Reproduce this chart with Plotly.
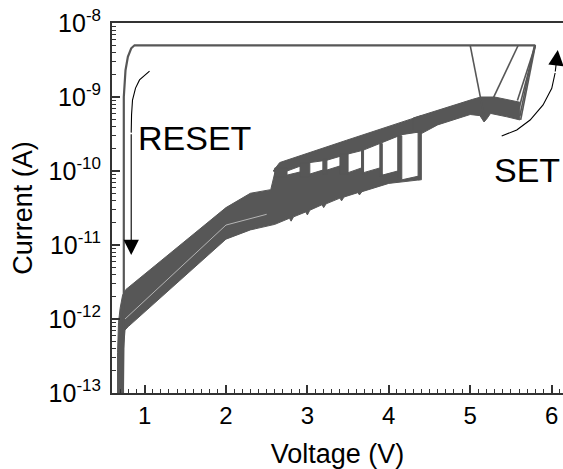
import numpy as np
import plotly.graph_objects as go

# ---------------- data (Voltage in V, Current in A) -------------
I_cc = 5e-9  # compliance current

# lower band (all SET sweeps, 0.67 V .. 4.4 V): upper and lower edges
low_top_v = [0.668, 0.668, 0.68, 0.70, 0.73, 0.77, 2.0, 2.3, 2.55, 2.6, 2.75, 2.91, 3.03, 3.19,
             3.24, 3.40, 3.50, 3.665, 3.69, 3.89, 3.92, 4.11, 4.16, 4.36, 4.38]
low_top_i = [5e-14, 3.5e-13, 9e-13, 1.4e-12, 2.1e-12, 2.5e-12, 3.2e-11, 5.0e-11, 5.6e-11, 9.5e-11,
             8.8e-11, 9.7e-11, 9.1e-11, 1.03e-10, 1.03e-10, 1.17e-10, 9.5e-11, 1.1e-10, 9.5e-11,
             1.1e-10, 8.8e-11, 1.0e-10, 7.6e-11, 8.5e-11, 8.0e-11]
low_bot_v = [0.742, 0.742, 0.76, 0.80, 2.0, 2.3, 2.6, 2.78, 2.80, 2.83, 2.98, 3.00, 3.03,
             3.18, 3.20, 3.23, 3.40, 3.42, 3.45, 3.62, 3.64, 3.67, 4.0, 4.2, 4.38]
low_bot_i = [5e-14, 4.0e-13, 7.1e-13, 7.9e-13, 1.2e-11, 1.6e-11, 1.9e-11, 2.3e-11, 2.1e-11, 2.4e-11,
             2.8e-11, 2.55e-11, 2.95e-11, 3.5e-11, 3.2e-11, 3.6e-11, 4.3e-11, 3.95e-11, 4.45e-11,
             5.1e-11, 4.75e-11, 5.25e-11, 6.8e-11, 7.2e-11, 7.6e-11]

# jumps from the lower to the upper branch
pillar_v_left = [2.60, 2.91, 3.19, 3.40, 3.665, 3.89, 4.11, 4.36]
pillar_v_right = [2.75, 3.03, 3.24, 3.50, 3.69, 3.92, 4.16, 4.40]
pillar_i_low = [8.3e-11, 8.3e-11, 9.0e-11, 9.0e-11, 9.0e-11, 8.5e-11, 7.8e-11, 7.6e-11]
pillar_i_high = [1.1e-10, 1.3e-10, 1.45e-10, 1.7e-10, 1.95e-10, 2.35e-10, 3.0e-10, 3.5e-10]

# upper branch (after the small jumps)
up_top_v = [2.58, 2.66, 3.48, 4.30, 4.40]
up_top_i = [1.0e-10, 1.3e-10, 2.6e-10, 5.2e-10, 5.6e-10]
up_bot_v = [2.62, 2.75, 3.03, 3.24, 3.50, 3.68, 4.16, 4.40]
up_bot_i = [9.5e-11, 1.0e-10, 1.3e-10, 1.4e-10, 1.7e-10, 1.9e-10, 3.1e-10, 3.4e-10]

# merged band before SET
mer_top_v = [4.30, 4.59, 5.03, 5.13, 5.30, 5.61]
mer_top_i = [5.2e-10, 6.6e-10, 9.3e-10, 1.0e-9, 1.0e-9, 8.5e-10]
mer_bot_v = [4.30, 4.40, 4.60, 5.00, 5.12, 5.17, 5.20, 5.25, 5.45, 5.61]
mer_bot_i = [3.5e-10, 3.2e-10, 4.2e-10, 5.8e-10, 5.6e-10, 4.6e-10, 5.0e-10, 6.0e-10, 5.4e-10, 4.9e-10]

# SET jumps to compliance
jump_v_top = [5.00, 5.59, 5.80, 5.80, 5.79, 5.80]
jump_v_bot = [5.18, 5.28, 5.58, 5.60, 5.61, 5.62]
jump_i_bot = [4.9e-10, 9.5e-10, 9.0e-10, 7.0e-10, 5.5e-10, 4.9e-10]

# compliance plateau and RESET drop
cc_v = [5.80, 0.877, 0.836, 0.795, 0.766, 0.754, 0.745, 0.745, 0.738, 0.73]
cc_i = [I_cc, I_cc, 4.55e-9, 3.5e-9, 2.3e-9, 1.5e-9, 1.0e-9, 1.3e-12, 3e-13, 5e-14]

# thin gap between curves inside the band
gap_v = [0.76, 2.0, 2.5]
gap_i = [1.0e-12, 1.86e-11, 2.6e-11]

# curved guide arrows
reset_arrow_v = [1.061, 1.0, 0.938, 0.889, 0.852, 0.840, 0.836]
reset_arrow_i = [2.24e-9, 1.98e-9, 1.70e-9, 1.32e-9, 9.1e-10, 5.7e-10, 3.3e-10]
reset_tip = (0.836, 7.3e-12)
set_arrow_v = [5.387, 5.572, 5.736, 5.895, 6.002, 6.043]
set_arrow_i = [2.97e-10, 3.58e-10, 4.89e-10, 7.8e-10, 1.31e-9, 2.11e-9]
set_tip = (6.076, 4.3e-9)

labels = [("RESET", 1.61, 2.75e-10), ("SET", 5.70, 1.04e-10)]

x_range = [0.6, 6.14]
y_range_exp = [-13, -8]
y_tick_vals = [1e-13, 1e-12, 1e-11, 1e-10, 1e-9, 1e-8]
y_tick_exps = ["-13", "-12", "-11", "-10", "-9", "-8"]

# ---------------- figure ----------------
GRAY = "#575757"
FONT = "Liberation Sans, Arial, Helvetica, sans-serif"

fig = go.Figure()


def band(top_v, top_i, bot_v, bot_i):
    xs = list(top_v) + list(bot_v)[::-1] + [top_v[0]]
    ys = list(top_i) + list(bot_i)[::-1] + [top_i[0]]
    fig.add_trace(go.Scatter(x=xs, y=ys, mode="lines", fill="toself", fillcolor=GRAY,
                             line=dict(color=GRAY, width=1), hoverinfo="skip", showlegend=False))


band(low_top_v, low_top_i, low_bot_v, low_bot_i)
band(up_top_v, up_top_i, up_bot_v, up_bot_i)
band(mer_top_v, mer_top_i, mer_bot_v, mer_bot_i)

px_, py_ = [], []
for vl, vr, lo, hi in zip(pillar_v_left, pillar_v_right, pillar_i_low, pillar_i_high):
    px_ += [vl, vr, vr, vl, vl, None]
    py_ += [lo, lo, hi, hi, lo, None]
fig.add_trace(go.Scatter(x=px_, y=py_, mode="lines", fill="toself", fillcolor=GRAY,
                         line=dict(color=GRAY, width=1), hoverinfo="skip", showlegend=False))

jx, jy = [], []
for vt, vb, ib in zip(jump_v_top, jump_v_bot, jump_i_bot):
    jx += [vb, vt, None]
    jy += [ib, I_cc, None]
fig.add_trace(go.Scatter(x=jx, y=jy, mode="lines", line=dict(color=GRAY, width=1.6),
                         hoverinfo="skip", showlegend=False))

fig.add_trace(go.Scatter(x=cc_v, y=cc_i, mode="lines", line=dict(color=GRAY, width=2.2),
                         hoverinfo="skip", showlegend=False))

fig.add_trace(go.Scatter(x=gap_v, y=gap_i, mode="lines", line=dict(color="white", width=0.8),
                         opacity=0.7, hoverinfo="skip", showlegend=False))

for av, ai in ((reset_arrow_v, reset_arrow_i), (set_arrow_v, set_arrow_i)):
    fig.add_trace(go.Scatter(x=av, y=ai, mode="lines", line=dict(color="black", width=1.1),
                             hoverinfo="skip", showlegend=False))

for (tv, ti), av, ai in ((reset_tip, reset_arrow_v, reset_arrow_i), (set_tip, set_arrow_v, set_arrow_i)):
    fig.add_annotation(x=tv, y=np.log10(ti), ax=av[-1], ay=np.log10(ai[-1]),
                       xref="x", yref="y", axref="x", ayref="y", text="",
                       showarrow=True, arrowhead=2, arrowsize=2.8, arrowwidth=1.1,
                       arrowcolor="black", standoff=0, startstandoff=0)

for txt, lv, li in labels:
    fig.add_annotation(x=lv, y=np.log10(li), xref="x", yref="y", text=txt, showarrow=False,
                       font=dict(family=FONT, size=34, color="black"),
                       xanchor="center", yanchor="middle")

y_tick_text = ["10<sup><span style='font-size:17px'>%s</span></sup>" % e for e in y_tick_exps]

axis_common = dict(showline=True, linecolor="#333333", linewidth=2, showgrid=False, zeroline=False,
                   ticks="inside", ticklen=8, tickwidth=1.5, tickcolor="#333333", automargin=False)

fig.update_xaxes(range=x_range, dtick=1, tick0=0, mirror=True,
                 tickfont=dict(family=FONT, size=24, color="black"),
                 minor=dict(ticks="inside", ticklen=4, dtick=0.1, tickwidth=1, tickcolor="#333333"),
                 title=dict(text="Voltage (V)", font=dict(family=FONT, size=27, color="black"), standoff=19),
                 **axis_common)
fig.update_yaxes(type="log", range=y_range_exp, tickmode="array", tickvals=y_tick_vals,
                 ticktext=y_tick_text, ticklabelstandoff=4,
                 tickfont=dict(family=FONT, size=25, color="black"),
                 minor=dict(ticks="inside", ticklen=4, dtick="D1", tickwidth=1, tickcolor="#333333"),
                 title=dict(text="Current (A)", font=dict(family=FONT, size=27, color="black"), standoff=8),
                 **axis_common)

fig.update_layout(width=563, height=469, margin=dict(l=112, r=0, t=23, b=76, autoexpand=False),
                  paper_bgcolor="white", plot_bgcolor="white", showlegend=False)

fig.write_html("out.html", config={"displayModeBar": False},
               post_script="document.body.style.margin='0';document.body.style.overflow='hidden';")
